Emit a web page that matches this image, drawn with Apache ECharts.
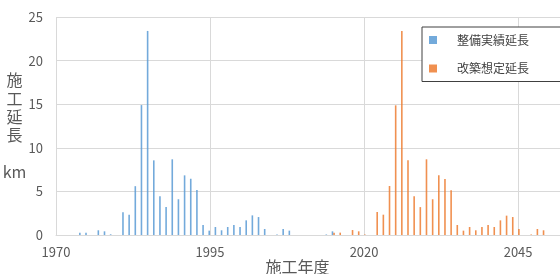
<!DOCTYPE html>
<html>
<head>
<meta charset="utf-8">
<script src="https://cdn.jsdelivr.net/npm/echarts@6/dist/echarts.min.js"></script>
<style>
  html, body { margin: 0; padding: 0; background: #fff; }
  #chart { width: 560px; height: 274px; }
</style>
</head>
<body>
<div id="chart"></div>
<script>
// 整備実績延長 (km)
const builtYears = [1974, 1975, 1977, 1978, 1979, 1981, 1982, 1983, 1984, 1985,
    1986, 1987, 1988, 1989, 1990, 1991, 1992, 1993, 1994, 1995,
    1996, 1997, 1998, 1999, 2000, 2001, 2002, 2003, 2004, 2006,
    2007, 2008, 2014, 2015];
const builtValues = [0.27, 0.27, 0.54, 0.42, 0.08, 2.6, 2.33, 5.6, 14.9, 23.4,
    8.56, 4.43, 3.2, 8.68, 4.1, 6.84, 6.45, 5.15, 1.15, 0.5,
    0.92, 0.54, 0.92, 1.15, 0.92, 1.68, 2.25, 2.06, 0.69, 0.06,
    0.69, 0.5, 0.06, 0.42];

// 改築想定延長 (km)
const renewYears = [2015, 2016, 2018, 2019, 2020, 2022, 2023, 2024, 2025, 2026,
    2027, 2028, 2029, 2030, 2031, 2032, 2033, 2034, 2035, 2036,
    2037, 2038, 2039, 2040, 2041, 2042, 2043, 2044, 2045, 2047,
    2048, 2049];
const renewValues = [0.27, 0.27, 0.57, 0.42, 0.06, 2.64, 2.33, 5.62, 14.87, 23.4,
    8.56, 4.43, 3.2, 8.68, 4.1, 6.84, 6.42, 5.12, 1.15, 0.5,
    0.92, 0.54, 0.92, 1.15, 0.92, 1.68, 2.22, 2.06, 0.69, 0.06,
    0.69, 0.54];

const seriesNames = ['整備実績延長', '改築想定延長'];
const colors = ['#5b9bd5', '#ed7d31'];

const pairs = (xs, ys) => xs.map((x, i) => [x, ys[i]]);

const font = 'Noto Sans CJK JP';
const gridColor = '#d9d9d9';

const options = {
    animation: false,
    color: colors,
    textStyle: { fontFamily: font },
    grid: { left: 56, right: 0, top: 17, bottom: 39, outerBoundsMode: 'none', containLabel: false },
    legend: {
        orient: 'vertical',
        left: 422,
        top: 27,
        padding: [6, 44, 6, 7],
        itemWidth: 8,
        itemHeight: 8,
        itemGap: 14.5,
        icon: 'rect',
        borderColor: '#404040',
        borderWidth: 1,
        backgroundColor: '#fff',
        textStyle: {
            fontSize: 12,
            color: '#404040',
            lineHeight: 14,
            padding: [0, 0, 0, 15],
        },
        data: seriesNames,
    },
    xAxis: {
        type: 'value',
        min: 1970,
        max: 2051.8,
        interval: 25,
        name: '施工年度',
        nameLocation: 'middle',
        nameGap: 24,
        nameMoveOverlap: false,
        nameTextStyle: { fontSize: 16, color: '#595959', padding: [0, 21, 0, 0] },
        axisLine: { show: true, lineStyle: { color: gridColor } },
        axisTick: { show: false },
        axisLabel: {
            color: '#595959',
            fontSize: 13,
            margin: 11,
            showMaxLabel: false,
            formatter: v => String(v),
        },
        splitLine: { show: true, lineStyle: { color: gridColor } },
    },
    yAxis: {
        type: 'value',
        min: 0,
        max: 25,
        interval: 5,
        name: '施\n工\n延\n長\n\nkm',
        nameLocation: 'middle',
        nameRotate: 0,
        nameGap: 41.5,
        nameMoveOverlap: false,
        nameTextStyle: {
            fontSize: 16,
            color: '#595959',
            align: 'center',
            lineHeight: 18.3,
            padding: [5, 0, 0, 0],
        },
        axisLine: { show: false },
        axisTick: { show: false },
        axisLabel: { color: '#595959', fontSize: 13, margin: 13 },
        splitLine: { lineStyle: { color: gridColor } },
    },
    series: [
        {
            name: seriesNames[0],
            type: 'bar',
            barWidth: 1.6,
            barGap: '0%',
            itemStyle: { opacity: 0.85 },
            data: pairs(builtYears, builtValues),
        },
        {
            name: seriesNames[1],
            type: 'bar',
            barWidth: 1.6,
            barGap: '0%',
            itemStyle: { opacity: 0.85 },
            data: pairs(renewYears, renewValues),
        },
    ],
};

const chart = echarts.init(document.getElementById('chart'));
chart.setOption(options);
</script>
</body>
</html>
